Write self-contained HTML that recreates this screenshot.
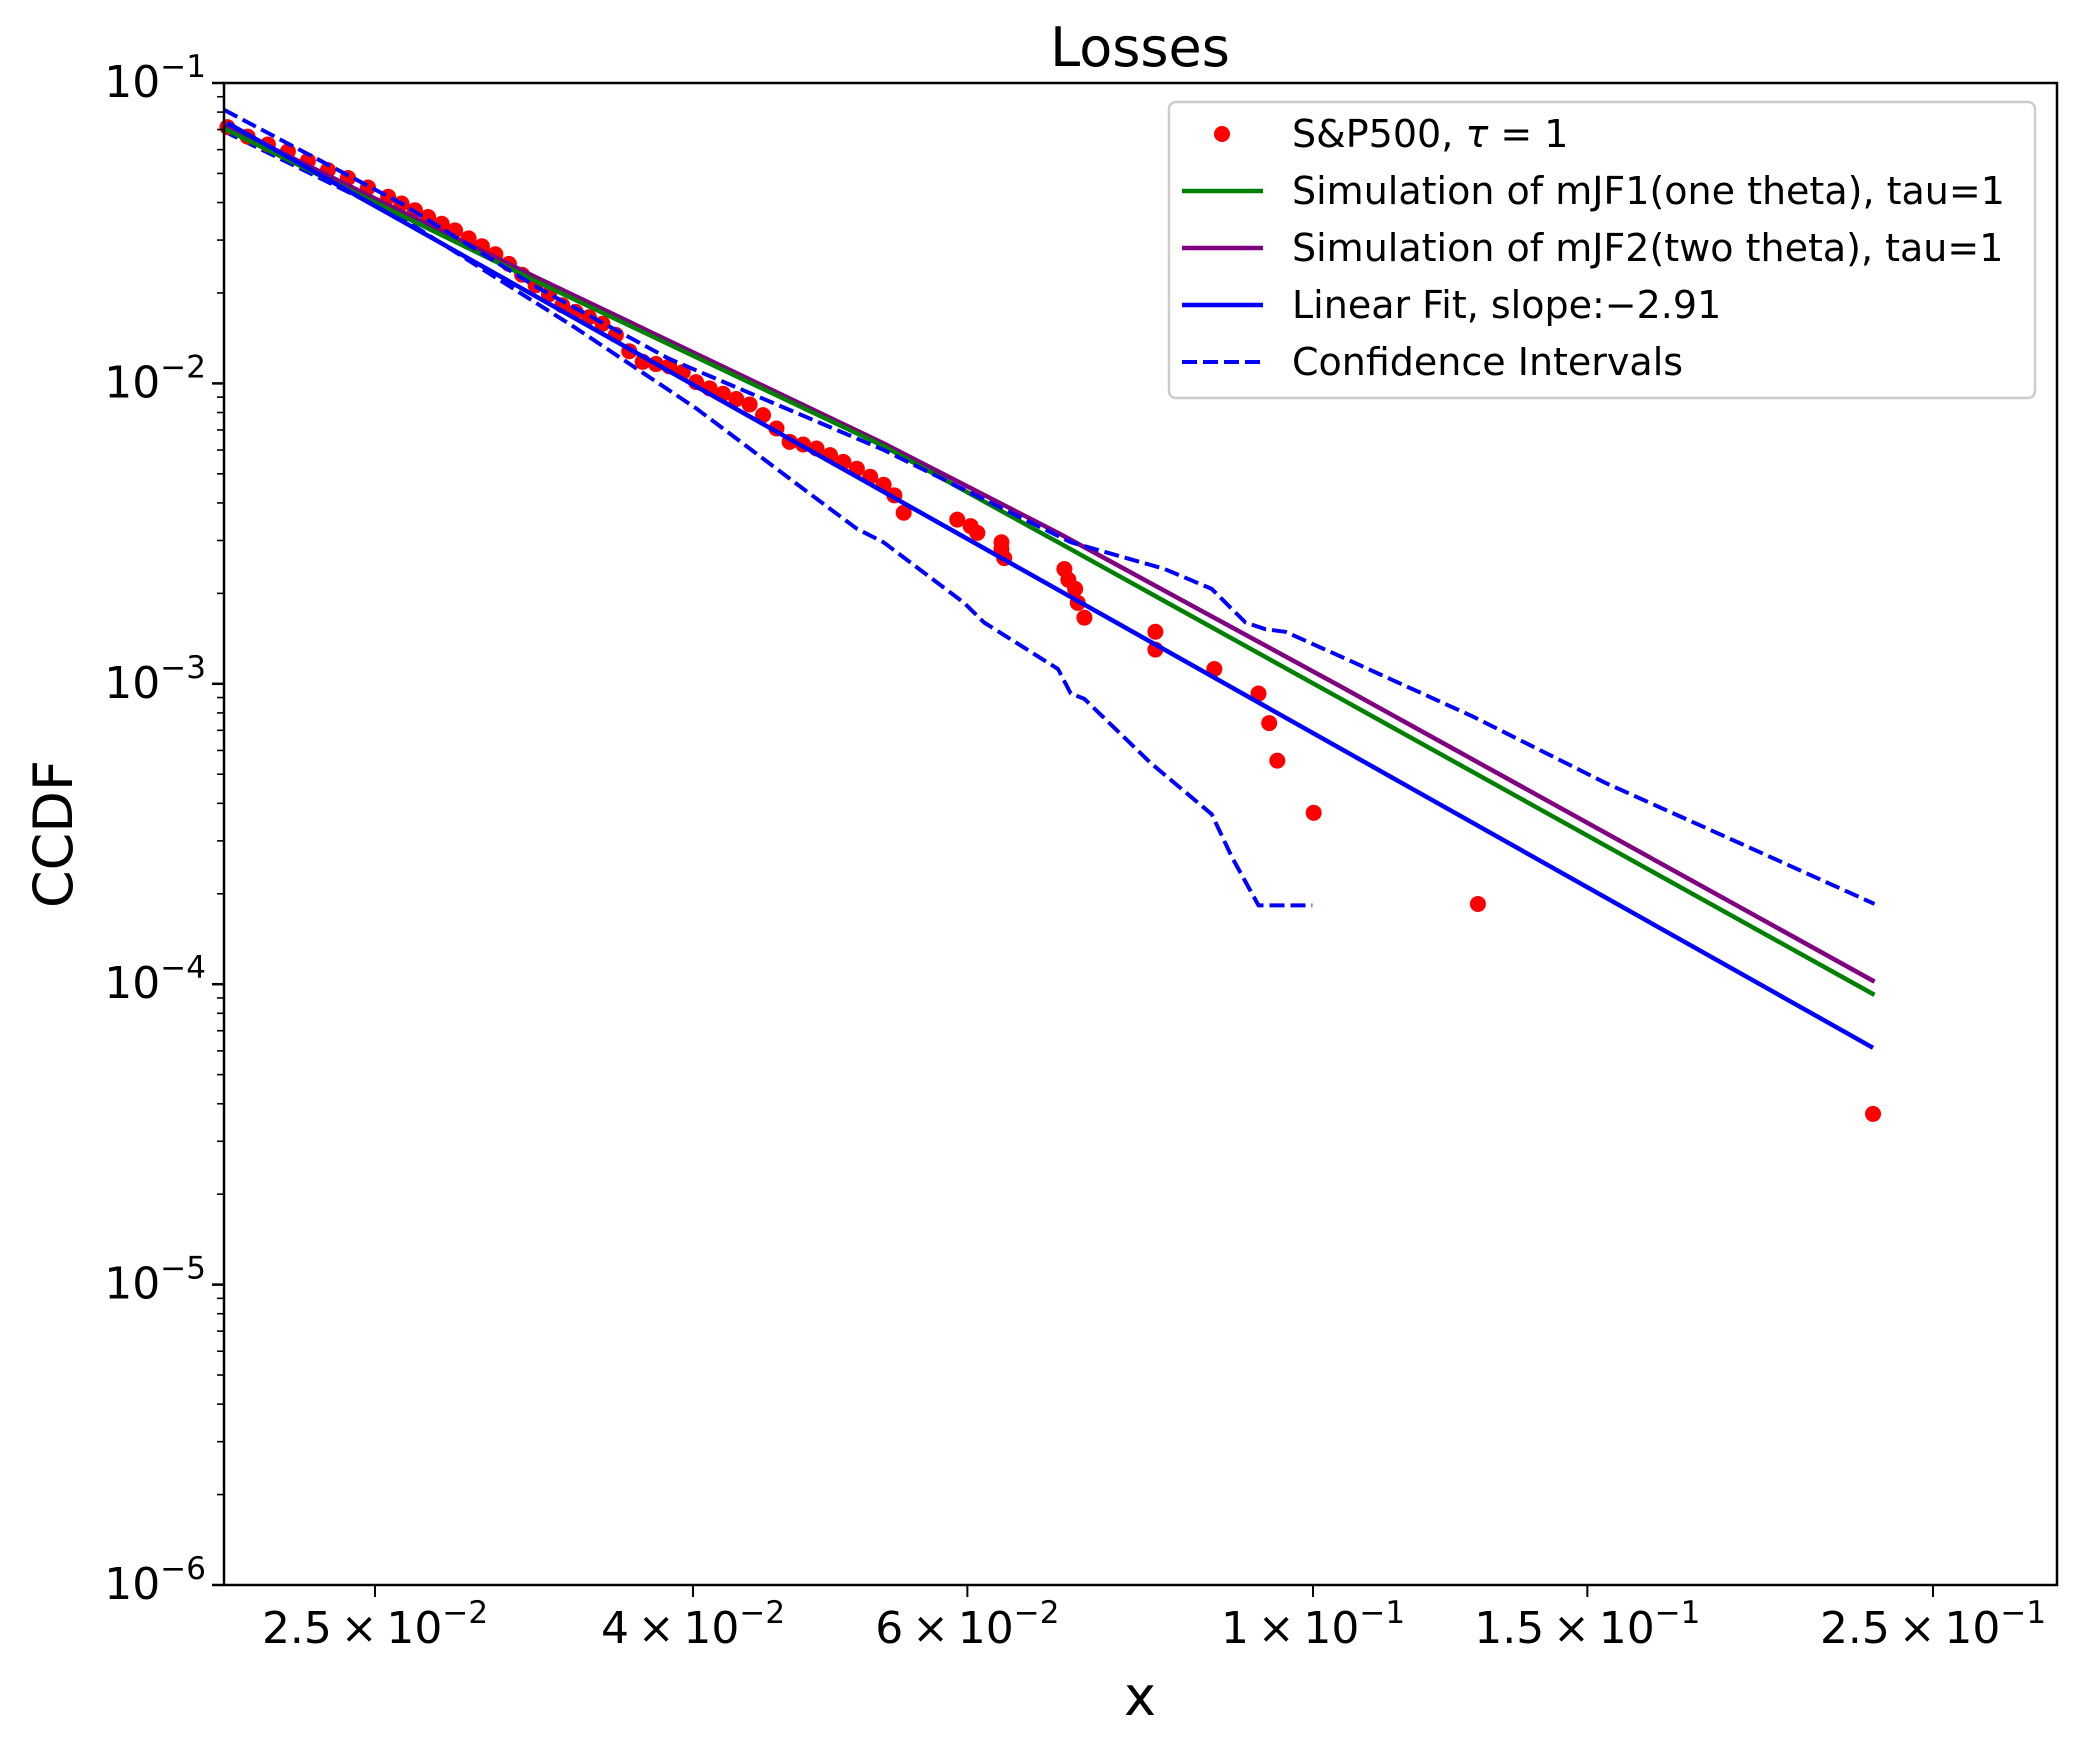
<!DOCTYPE html>
<html><head><meta charset="utf-8"><style>
html,body{margin:0;padding:0;background:#fff;}
svg{display:block;font-family:"DejaVu Sans","Liberation Sans",sans-serif;}
</style></head><body>
<svg id="chart" width="2100" height="1750" viewBox="0 0 2100 1750" xmlns="http://www.w3.org/2000/svg">
<rect width="2100" height="1750" fill="#fff"/>
<text x="1140" y="66" font-size="54" text-anchor="middle">Losses</text>
<text x="1140" y="1715" font-size="54" text-anchor="middle">x</text>
<text x="0" y="0" font-size="54" text-anchor="middle" transform="translate(72,834) rotate(-90)">CCDF</text>
<g id="plot"></g>
<g id="ticks"></g>
<rect x="224" y="83" width="1833" height="1502" fill="none" stroke="#000" stroke-width="2.5"/>
<g id="legend"></g>
</svg>
<script>
const scatterX=[0.0201,0.02071,0.02134,0.02198,0.02264,0.02332,0.02402,0.02474,0.02549,0.026,0.02652,0.02704,0.02759,0.02814,0.02871,0.02928,0.02987,0.03047,0.03107,0.0317,0.03233,0.03297,0.03363,0.0343,0.03499,0.03569,0.0364,0.03713,0.03787,0.03862,0.0394,0.04018,0.04099,0.04181,0.04264,0.04349,0.04436,0.04525,0.04614,0.04707,0.04801,0.04898,0.04995,0.05096,0.05197,0.05301,0.05386,0.05461,0.05911,0.06029,0.06089,0.0631,0.0631,0.06336,0.06925,0.06966,0.07036,0.07063,0.07133,0.07922,0.07922,0.08643,0.09226,0.09373,0.09486,0.1001,0.1276,0.2288];
const scatterY=[0.0713,0.0663,0.0624,0.0592,0.0551,0.0513,0.0483,0.0449,0.0418,0.0397,0.0377,0.0358,0.034,0.0323,0.0304,0.0286,0.0269,0.025,0.023,0.0212,0.0198,0.0182,0.0173,0.0166,0.0158,0.0145,0.0128,0.0118,0.0116,0.0114,0.0109,0.0101,0.00963,0.00924,0.00887,0.00851,0.00784,0.00708,0.00639,0.00626,0.00607,0.00577,0.00548,0.0052,0.00489,0.0046,0.00424,0.00371,0.00352,0.00335,0.00318,0.00296,0.00281,0.00262,0.00241,0.00222,0.00207,0.00186,0.00166,0.00149,0.0013,0.00112,0.000928,0.00074,0.000555,0.000372,0.000185,0.000037];
const fitX=[0.0201,0.2288];
const fitY=[0.0736,0.0000614];
const mjf1X=[0.02,0.0317,0.053,0.0686,0.1039,0.2293];
const mjf1Y=[0.0705,0.0219,0.00619,0.00296,0.000899,0.0000921];
const mjf2X=[0.02,0.0317,0.053,0.0686,0.1039,0.2293];
const mjf2Y=[0.0727,0.02258,0.00632,0.00318,0.000987,0.000102];
const ciUpX=[0.02,0.026,0.0317,0.03862,0.053,0.0699,0.0803,0.0861,0.0905,0.0932,0.096,0.1039,0.1266,0.1543,0.1881,0.2293];
const ciUpY=[0.0814,0.0397,0.021,0.01207,0.00601,0.00296,0.00241,0.00207,0.0016,0.00152,0.00149,0.00124,0.000779,0.000466,0.000294,0.000185];
const ciLoX=[0.02,0.026,0.03363,0.04018,0.04707,0.05096,0.053,0.0597,0.0615,0.0686,0.0699,0.07133,0.0787,0.0861,0.0887,0.09226,0.0999];
const ciLoY=[0.0691,0.0355,0.0153,0.00826,0.00446,0.00328,0.00296,0.00186,0.0016,0.00112,0.000928,0.000891,0.000544,0.000368,0.000265,0.000183,0.000183];
const xTickVals=[0.025,0.04,0.06,0.1,0.15,0.25];
const xTickMant=["2.5","4","6","1","1.5","2.5"];
const xTickExp=["\u22122","\u22122","\u22122","\u22121","\u22121","\u22121"];
const yTickExps=[-1,-2,-3,-4,-5,-6];

const NS="http://www.w3.org/2000/svg";
const L=224,R=2057,T=83,B=1585;
const LX0=Math.log10(0.025)-(375-L)/1558;
function sx(v){return L+(Math.log10(v)-LX0)*1558;}
function sy(v){return T+(-1-Math.log10(v))*(B-T)/5;}
function mk(tag,attrs,parent){const e=document.createElementNS(NS,tag);for(const k in attrs)e.setAttribute(k,attrs[k]);parent.appendChild(e);return e;}
const plot=document.getElementById('plot');
const ticks=document.getElementById('ticks');
const leg=document.getElementById('legend');
function line(xs,ys,color,dash,name){
  const p=mk('polyline',{points:xs.map((x,i)=>sx(x).toFixed(1)+','+sy(ys[i]).toFixed(1)).join(' '),fill:'none',stroke:color,'stroke-width':dash?'4':'4.5','stroke-dasharray':dash?'15 6':'none','stroke-linejoin':'round'},plot);
  
  
}
line(ciLoX,ciLoY,'#0000ff',true,'ci-lower-line');
const sg=mk('g',{},plot);


scatterX.forEach((x,i)=>{const c=mk('circle',{cx:sx(x),cy:sy(scatterY[i]),r:8,fill:'#ff0000'},sg);
  
  });
line(mjf2X,mjf2Y,'#800080',false,'mjf2-line');
line(mjf1X,mjf1Y,'#008000',false,'mjf1-line');
line(fitX,fitY,'#0000ff',false,'linear-fit-line');
line(ciUpX,ciUpY,'#0000ff',true,'ci-upper-line');

yTickExps.forEach(e=>{
  const y=sy(Math.pow(10,e));
  const t=mk('line',{x1:L-12,x2:L,y1:y,y2:y,stroke:'#000','stroke-width':2.5},ticks);
  
  
  const tx=mk('text',{x:L-18,y:y+14,'font-size':44,'text-anchor':'end'},ticks);
  
  
  tx.innerHTML='10<tspan dy="-20" font-size="31">\u2212'+(-e)+'</tspan>';
  if(e>-6){for(let m=2;m<10;m++){const yy=sy(m*Math.pow(10,e-1));
    const mt=mk('line',{x1:L-7,x2:L,y1:yy,y2:yy,stroke:'#000','stroke-width':1.6},ticks);
    
    }}
});
xTickVals.forEach((v,i)=>{
  const x=sx(v);
  const t=mk('line',{x1:x,x2:x,y1:B,y2:B+12,stroke:'#000','stroke-width':2},ticks);
  
  
  const tx=mk('text',{x:x,y:B+58,'font-size':44,'text-anchor':'middle'},ticks);
  
  
  tx.innerHTML=xTickMant[i]+'\u2009\u00d7\u200910<tspan dy="-20" font-size="31">'+xTickExp[i]+'</tspan>';
});
const lb=mk('rect',{x:1169,y:102,width:866,height:296,rx:7,fill:'#fff','fill-opacity':0.8,stroke:'#ccc','stroke-width':2.5},leg);


const entries=[['S&amp;P500, <tspan font-style="italic">τ</tspan> = 1','dot','#ff0000'],['Simulation of mJF1(one theta), tau=1','solid','#008000'],['Simulation of mJF2(two theta), tau=1','solid','#800080'],['Linear Fit, slope:\u22122.91','solid','#0000ff'],['Confidence Intervals','dash','#0000ff']];
entries.forEach((en,i)=>{
  const y=134+i*57;
  const g=mk('g',{},leg);
  
  
  if(en[1]==='dot'){mk('circle',{cx:1222,cy:y,r:8,fill:en[2]},g);}
  else mk('line',{x1:1182,x2:1263,y1:y,y2:y,stroke:en[2],'stroke-width':en[1]==='dash'?4:4.5,'stroke-dasharray':en[1]==='dash'?'15 6':'none'},g);
  const t=mk('text',{x:1292,y:y+13,'font-size':38},g);
  t.innerHTML=en[0];
});
</script>
</body></html>
